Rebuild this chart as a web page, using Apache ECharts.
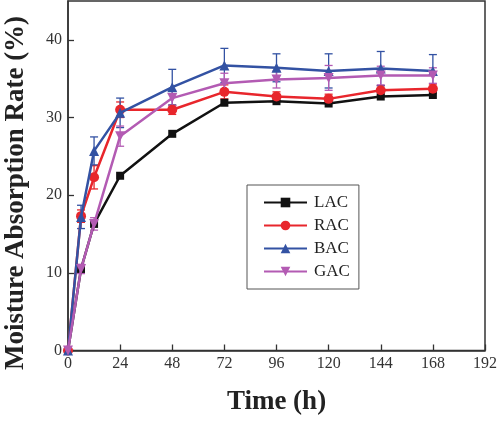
<!DOCTYPE html>
<html>
<head>
<meta charset="utf-8">
<script src="https://cdn.jsdelivr.net/npm/echarts@6/dist/echarts.min.js"></script>
<style>html,body{margin:0;padding:0;background:#fff;}#chart{width:500px;height:423px;}</style>
</head>
<body>
<div id="chart"></div>
<script>
var hours = [0, 6, 12, 24, 48, 72, 96, 120, 144, 168];
var xTicks = [0, 24, 48, 72, 96, 120, 144, 168, 192];
var yTicks = [0, 10, 20, 30, 40];
var seriesNames = ['LAC', 'RAC', 'BAC', 'GAC'];
var LAC = [0, 10.5, 16.3, 22.5, 27.9, 31.9, 32.1, 31.8, 32.7, 32.9];
var LAC_err = [0, 0.3, 0.3, 0.3, 0.3, 0.3, 0.3, 0.3, 0.3, 0.3];
var RAC = [0, 17.3, 22.3, 31.0, 31.0, 33.3, 32.7, 32.4, 33.5, 33.7];
var RAC_err = [0, 0.8, 1.5, 1.0, 0.6, 0.9, 0.6, 0.6, 0.6, 0.6];
var BAC = [0, 17.2, 25.7, 30.6, 33.9, 36.7, 36.4, 36.0, 36.3, 36.0];
var BAC_err = [0, 1.5, 1.8, 1.9, 2.3, 2.2, 1.8, 2.2, 2.2, 2.1];
var GAC = [0, 10.5, 16.3, 27.6, 32.5, 34.4, 34.9, 35.1, 35.4, 35.4];
var GAC_err = [0, 0.6, 0.8, 1.3, 1.0, 1.3, 1.1, 1.6, 1.2, 1.0];

var colors = ['#111111', '#e8262c', '#3352a3', '#b35bb3'];
var symbols = ['rect', 'circle', 'triangle', 'path://M0,0 L10,0 L5,9 Z'];
var values = [LAC, RAC, BAC, GAC];
var errs = [LAC_err, RAC_err, BAC_err, GAC_err];

function pairs(v) { return hours.map(function (h, i) { return [h, v[i]]; }); }
function errData(v, e) { return hours.map(function (h, i) { return [h, v[i] - e[i], v[i] + e[i]]; }); }

var series = [];
[1, 2, 3].forEach(function (k) {
  series.push({
    type: 'custom',
    name: seriesNames[k] + '_err',
    data: errData(values[k], errs[k]),
    z: 1,
    silent: true,
    renderItem: function (params, api) {
      var x = api.value(0);
      var lo = api.coord([x, api.value(1)]);
      var hi = api.coord([x, api.value(2)]);
      var w = 4;
      var st = { stroke: colors[k], lineWidth: 1.3 };
      return {
        type: 'group',
        children: [
          { type: 'line', shape: { x1: lo[0], y1: lo[1], x2: hi[0], y2: hi[1] }, style: st },
          { type: 'line', shape: { x1: lo[0] - w, y1: lo[1], x2: lo[0] + w, y2: lo[1] }, style: st },
          { type: 'line', shape: { x1: hi[0] - w, y1: hi[1], x2: hi[0] + w, y2: hi[1] }, style: st }
        ]
      };
    }
  });
});
[0, 1, 2, 3].forEach(function (k) {
  series.push({
    type: 'line',
    name: seriesNames[k],
    data: pairs(values[k]),
    symbol: symbols[k],
    symbolSize: k === 0 ? 8 : 10,
    lineStyle: { color: colors[k], width: 2.5 },
    itemStyle: { color: colors[k] },
    z: 2 + k,
    animation: false
  });
});

var chart = echarts.init(document.getElementById('chart'));
chart.setOption({
  animation: false,
  backgroundColor: '#fff',
  grid: { left: 68, right: 13, top: 1, bottom: 72.5, show: true, borderColor: '#333', borderWidth: 1.5, backgroundColor: 'transparent' },
  legend: {
    data: seriesNames,
    orient: 'vertical',
    left: 247,
    top: 185,
    padding: [9, 9, 9, 16],
    itemWidth: 43,
    itemHeight: 12,
    itemGap: 6,
    borderColor: '#555',
    borderWidth: 1,
    backgroundColor: '#fff',
    textStyle: { fontFamily: 'Liberation Serif', fontSize: 17, color: '#222', padding: [0, 0, 0, 2] }
  },
  xAxis: {
    type: 'value',
    min: 0, max: 192, interval: 24,
    name: 'Time (h)',
    nameLocation: 'middle',
    nameGap: 38,
    nameTextStyle: { fontFamily: 'Liberation Serif', fontWeight: 'bold', fontSize: 27, color: '#222' },
    axisLine: { show: true, lineStyle: { color: '#333', width: 1.5 } },
    axisTick: { show: true, inside: true, length: 6, lineStyle: { color: '#333', width: 1.3 } },
    axisLabel: { margin: 5, fontFamily: 'Liberation Serif', fontSize: 16, color: '#333', customValues: xTicks },
    splitLine: { show: false }
  },
  yAxis: {
    type: 'value',
    min: 0, max: 45, interval: 10,
    axisLine: { show: true, lineStyle: { color: '#333', width: 1.5 } },
    axisTick: { show: true, inside: true, length: 6, lineStyle: { color: '#333', width: 1.3 }, customValues: yTicks },
    axisLabel: { margin: 6, fontFamily: 'Liberation Serif', fontSize: 16, color: '#333', customValues: yTicks },
    splitLine: { show: false }
  },
  graphic: [{
    type: 'text',
    x: 16, y: 193,
    rotation: Math.PI / 2,
    style: {
      text: 'Moisture Absorption Rate (%)',
      fontFamily: 'Liberation Serif', fontWeight: 'bold', fontSize: 27, fill: '#222',
      align: 'center', verticalAlign: 'middle'
    }
  }],
  series: series
});
</script>
</body>
</html>
